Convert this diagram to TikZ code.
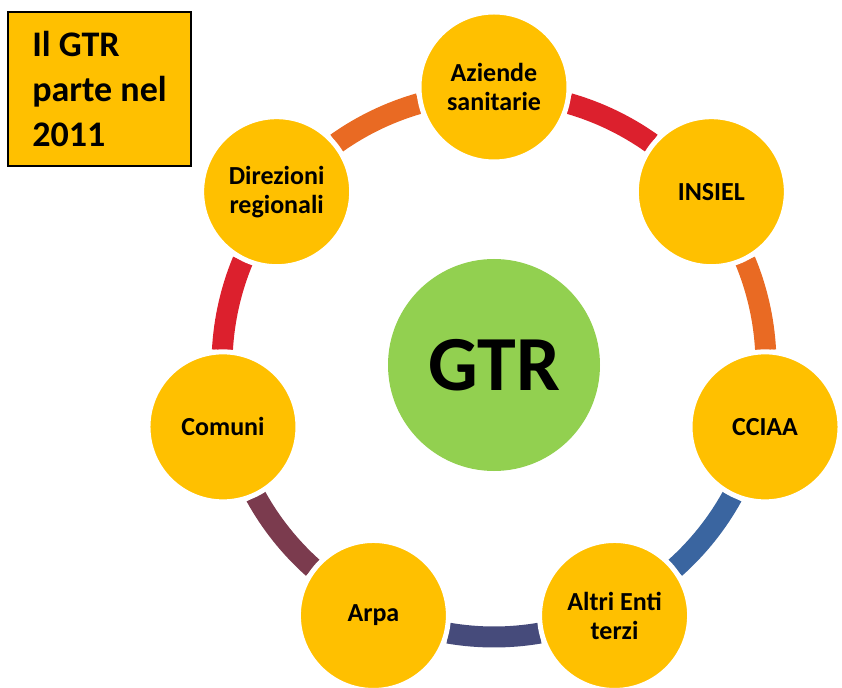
\documentclass[tikz,border=0pt]{standalone}
\usepackage{fontspec}
\setmainfont{Carlito}
\usepackage{tikz}

\definecolor{oro}{HTML}{FFC000}
\definecolor{verde}{HTML}{92D050}
\definecolor{rosso}{HTML}{DC202D}
\definecolor{arancio}{HTML}{E96A23}
\definecolor{blu}{HTML}{3A65A0}
\definecolor{notte}{HTML}{464B7B}
\definecolor{vinaccia}{HTML}{7B3B4E}

\tikzset{
  ente/.style={circle, fill=oro, draw=white, line width=5pt, minimum size=150pt,
    inner sep=0pt, align=center, font=\fontsize{26}{29}\selectfont\bfseries},
  anello/.style={line width=21pt},
  avviso/.style={draw=black, line width=1.5pt, fill=oro, minimum width=183pt,
    minimum height=154pt, inner sep=0pt, align=left,
    font=\fontsize{36}{45}\selectfont\bfseries}
}

\begin{document}
\begin{tikzpicture}[x=1pt, y=1pt]
    \useasboundingbox (-494, 365) rectangle (348, -322);
    \clip (-494, 365) rectangle (348, -322);

    \node[circle, fill=verde, minimum size=212pt, inner sep=0pt,
      font=\fontsize{78}{80}\selectfont\bfseries] (gtr) at (0, 0) {GTR};

    % archi dell'anello
    \draw[anello, rosso] (gtr.center) ++(74:272) arc (74:54.57:272);
    \draw[anello, arancio] (gtr.center) ++(22.57:272) arc (22.57:3.14:272);
    \draw[anello, blu] (gtr.center) ++(-28.86:272) arc (-28.86:-48.29:272);
    \draw[anello, notte] (gtr.center) ++(-80.29:272) arc (-80.29:-99.71:272);
    \draw[anello, vinaccia] (gtr.center) ++(-131.71:272) arc (-131.71:-151.14:272);
    \draw[anello, rosso] (gtr.center) ++(176.86:272) arc (176.86:157.43:272);
    \draw[anello, arancio] (gtr.center) ++(125.43:272) arc (125.43:106:272);

    \node[ente] (aziende) at (90:278) {Aziende\\sanitarie};
    \node[ente] (insiel) at (38.57:278) {INSIEL};
    \node[ente] (cciaa) at (-12.86:278) {CCIAA};
    \node[ente] (altri) at (-64.29:278) {Altri Enti\\terzi};
    \node[ente] (arpa) at (-115.71:278) {Arpa};
    \node[ente] (comuni) at (-167.14:278) {Comuni};
    \node[ente] (direzioni) at (141.43:278) {Direzioni\\regionali};

    \node[avviso] (avvio) at (-394.5, 276) {Il GTR\\parte nel\\2011};
\end{tikzpicture}
\end{document}
